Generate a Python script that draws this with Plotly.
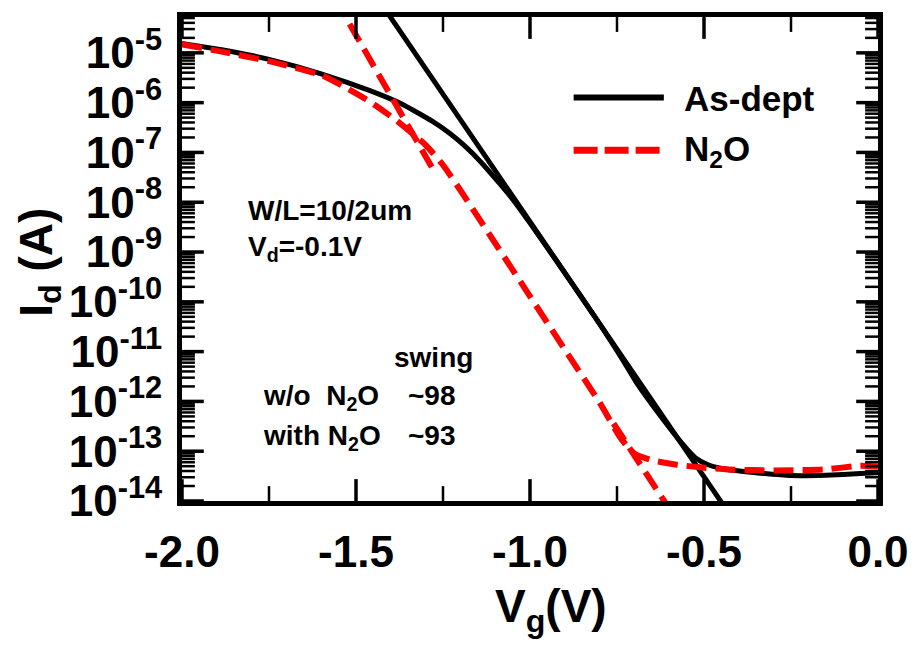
import math
import plotly.graph_objects as go

# ---------------- data ----------------
vg_asdept = [-2.00, -1.89, -1.75, -1.60, -1.46, -1.37, -1.28, -1.23, -1.186, -1.14, -1.09,
             -1.05, -1.00, -0.90, -0.80, -0.73, -0.695, -0.62, -0.56, -0.525, -0.49, -0.45,
             -0.41, -0.35, -0.25, -0.15, -0.05, 0.00]
id_asdept = [1.55e-5, 1.17e-5, 7.4e-6, 3.8e-6, 1.74e-6, 9.5e-7, 4.2e-7, 2.4e-7, 1.32e-7,
             6.3e-8, 2.5e-8, 1.15e-8, 3.8e-9, 3.8e-10, 3.6e-11, 6.2e-12, 2.45e-12,
             4.6e-13, 1.35e-13, 7.4e-14, 5.4e-14, 4.5e-14, 4.1e-14, 3.7e-14, 3.25e-14,
             3.3e-14, 3.55e-14, 3.7e-14]

vg_n2o = [-2.00, -1.89, -1.75, -1.60, -1.54, -1.46, -1.384, -1.30, -1.25, -1.20, -1.10,
          -1.00, -0.90, -0.80, -0.743, -0.715, -0.695, -0.647, -0.582, -0.505, -0.431,
          -0.30, -0.156, -0.05, 0.00]
id_n2o = [1.48e-5, 1.07e-5, 6.8e-6, 3.6e-6, 2.2e-6, 1.05e-6, 4.4e-7, 1.41e-7, 5.6e-8,
          1.74e-8, 1.5e-9, 1.29e-10, 1.1e-11, 9.5e-13, 2.0e-13, 1.12e-13, 8.5e-14,
          6.5e-14, 5.4e-14, 4.7e-14, 4.3e-14, 4.1e-14, 4.3e-14, 5.1e-14, 4.9e-14]

# subthreshold-swing fit lines (points on each line; None = gap where the data covers it)
vg_fit_asdept = [-1.45, -0.40]
id_fit_asdept = [1.66e-4, 2.9e-15]
vg_fit_n2o = [-1.56, -1.27, None, -0.76, -0.59]
id_fit_n2o = [1.22e-4, 3.6e-8, None, 3.6e-13, 5.5e-15]

x_tickvals = [-2.0, -1.5, -1.0, -0.5, 0.0]
x_ticktext = ["-2.0", "-1.5", "-1.0", "-0.5", "0.0"]
x_minorvals = [-1.75, -1.25, -0.75, -0.25]
y_exponents = [-14, -13, -12, -11, -10, -9, -8, -7, -6, -5]
y_tickvals = [10.0 ** e for e in y_exponents]
y_ticktext = ["10<sup>%d</sup>" % e for e in y_exponents]
y_minorvals = [m * 10.0 ** e for e in range(-14, -4) for m in range(2, 10)]

legend_names = ["As-dept", "N<sub>2</sub>O"]

# ---------------- layout helpers ----------------
W, H = 921, 646
L, R, T, B = 182, 37, 14, 145
PW, PH = W - L - R, H - T - B
XR = [-2.0, 0.0]
YR = [-14.0, -4.28]


def px(xp):
    return (xp - L) / PW


def py(yp):
    return (H - B - yp) / PH


def ypaper(v):
    return (math.log10(v) - YR[0]) / (YR[1] - YR[0])


FONT = "Liberation Sans, Arial, sans-serif"
BLACK = "#000000"
RED = "#ff0000"
DASH = "20px,9px"

fig = go.Figure()

fig.add_trace(go.Scatter(x=vg_asdept, y=id_asdept, mode="lines",
                         line=dict(color=BLACK, width=5, shape="spline", smoothing=0.5),
                         showlegend=False))
fig.add_trace(go.Scatter(x=vg_fit_asdept, y=id_fit_asdept, mode="lines",
                         line=dict(color=BLACK, width=5), showlegend=False))
fig.add_trace(go.Scatter(x=vg_n2o, y=id_n2o, mode="lines",
                         line=dict(color=RED, width=6, dash=DASH, shape="spline", smoothing=0.5),
                         showlegend=False))
fig.add_trace(go.Scatter(x=vg_fit_n2o, y=id_fit_n2o, mode="lines", connectgaps=False,
                         line=dict(color=RED, width=6, dash=DASH), showlegend=False))

tickfont = dict(family=FONT, size=44, color=BLACK, weight="bold")

fig.update_layout(
    xaxis=dict(range=XR, tickmode="array", tickvals=x_tickvals, ticktext=x_ticktext,
               showline=True, linewidth=5, linecolor=BLACK, mirror=True, ticks="",
               showgrid=False, zeroline=False, tickfont=tickfont, ticklabelstandoff=8),
    yaxis=dict(type="log", range=YR, tickmode="array", tickvals=y_tickvals, ticktext=y_ticktext,
               showline=True, linewidth=5, linecolor=BLACK, mirror=True, ticks="",
               showgrid=False, zeroline=False, tickfont=tickfont, ticklabelstandoff=6),
)

# inside ticks on all four sides (major and minor), drawn at the tick values
shapes = []
for vals, ln, wd in [(x_tickvals, 22, 3.5), (x_minorvals, 15, 2.5)]:
    for v in vals:
        shapes.append(dict(type="line", xref="x", yref="paper", x0=v, x1=v,
                           y0=0, y1=ln / PH, layer="above", line=dict(color=BLACK, width=wd)))
        shapes.append(dict(type="line", xref="x", yref="paper", x0=v, x1=v,
                           y0=1, y1=1 - ln / PH, layer="above", line=dict(color=BLACK, width=wd)))
for vals, ln, wd in [(y_tickvals, 22, 3.5), (y_minorvals, 13, 2.5)]:
    for v in vals:
        yp = ypaper(v)
        if yp < 0 or yp > 1:
            continue
        shapes.append(dict(type="line", xref="paper", yref="paper", x0=0, x1=ln / PW,
                           y0=yp, y1=yp, layer="above", line=dict(color=BLACK, width=wd)))
        shapes.append(dict(type="line", xref="paper", yref="paper", x0=1, x1=1 - ln / PW,
                           y0=yp, y1=yp, layer="above", line=dict(color=BLACK, width=wd)))

ann = []


def text(t, xp, yp, size, xanchor="left", angle=0):
    ann.append(dict(text=t, x=px(xp), y=py(yp), xref="paper", yref="paper",
                    xanchor=xanchor, yanchor="middle", showarrow=False, textangle=angle,
                    font=dict(family=FONT, size=size, color=BLACK, weight="bold")))


# axis titles
text("V<sub>g</sub>(V)", 554, 610, 46, xanchor="center")
text("I<sub>d</sub> (A)", 38, 261, 46, xanchor="center", angle=-90)
# inner texts
text("W/L=10/2um", 247, 209, 28)
text("V<sub>d</sub>=-0.1V", 247, 247, 28)
text("swing", 394, 357, 28)
text("w/o\u00a0\u00a0N<sub>2</sub>O", 262, 397, 28)
text("~98", 408, 395, 28)
text("with N<sub>2</sub>O", 262, 437, 28)
text("~93", 408, 435, 28)
# legend
text(legend_names[0], 686, 96, 35)
text(legend_names[1], 686, 149, 35)

shapes += [
    dict(type="line", xref="paper", yref="paper", x0=px(577), x1=px(668), y0=py(95), y1=py(95),
         line=dict(color=BLACK, width=6)),
    dict(type="line", xref="paper", yref="paper", x0=px(577), x1=px(668), y0=py(148), y1=py(148),
         line=dict(color=RED, width=7, dash="24px,7px")),
]

fig.update_layout(width=W, height=H, margin=dict(l=L, r=R, t=T, b=B),
                  paper_bgcolor="white", plot_bgcolor="white",
                  annotations=ann, shapes=shapes, showlegend=False)

fig.write_html("out.html")
